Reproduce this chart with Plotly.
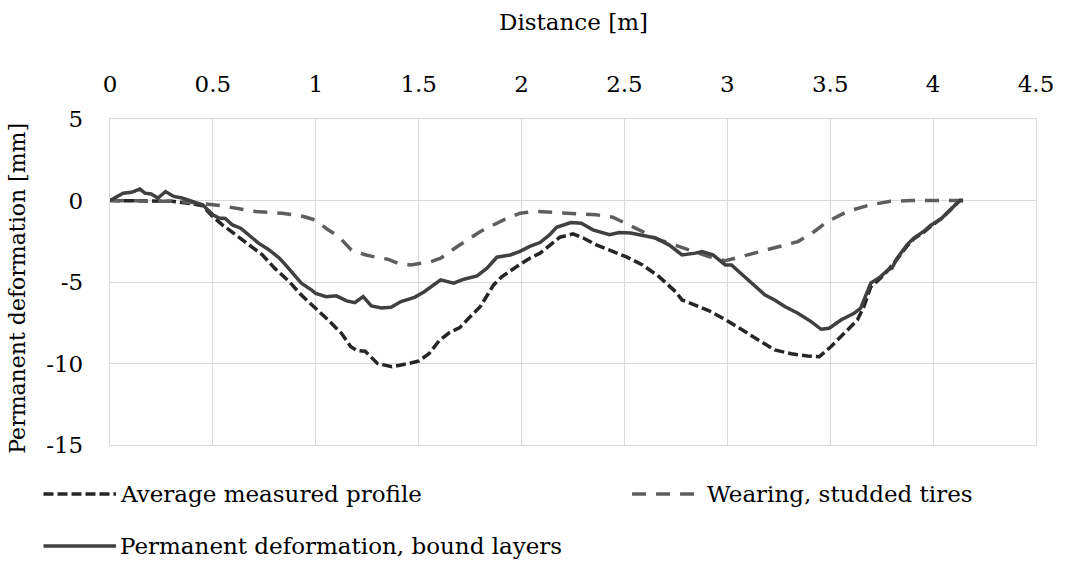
import plotly.graph_objects as go

# Average measured profile
avg_x = [0, 0.1, 0.2, 0.3, 0.4, 0.45, 0.5, 0.546, 0.61, 0.675, 0.74, 0.80, 0.87, 0.93, 1.0,
         1.06, 1.125, 1.17, 1.2, 1.24, 1.3, 1.37, 1.45, 1.5, 1.55, 1.6, 1.65, 1.7, 1.735, 1.8,
         1.864, 1.905, 1.977, 2.04, 2.09, 2.137, 2.186, 2.25, 2.30, 2.363, 2.427, 2.507, 2.588,
         2.668, 2.748, 2.78, 2.84, 2.909, 2.99, 3.07, 3.15, 3.23, 3.31, 3.39, 3.447, 3.503,
         3.568, 3.632, 3.664, 3.697, 3.745, 3.78, 3.825, 3.873, 3.906, 3.954, 3.986, 4.042,
         4.13, 4.146]
avg_y = [0, 0.0, 0.0, -0.05, -0.2, -0.33, -1.0, -1.49, -2.1, -2.7, -3.33, -4.15, -4.97, -5.8,
         -6.6, -7.33, -8.15, -8.97, -9.2, -9.25, -10.0, -10.2, -10.0, -9.85, -9.4, -8.6, -8.1,
         -7.8, -7.33, -6.5, -5.18, -4.67, -4.05, -3.54, -3.23, -2.78, -2.25, -2.05, -2.3,
         -2.72, -3.03, -3.44, -3.95, -4.67, -5.59, -6.1, -6.4, -6.75, -7.3, -7.94, -8.56,
         -9.17, -9.4, -9.54, -9.58, -8.97, -8.15, -7.33, -6.5, -5.3, -4.75, -4.3, -3.6, -2.8,
         -2.35, -1.95, -1.6, -1.1, 0, 0]

# Wearing, studded tires
wear_x = [0, 0.2, 0.3, 0.38, 0.546, 0.707, 0.836, 0.94, 0.997, 1.06, 1.11, 1.173, 1.24, 1.30,
          1.35, 1.4, 1.462, 1.56, 1.607, 1.688, 1.80, 1.913, 1.993, 2.07, 2.17, 2.26, 2.363,
          2.443, 2.49, 2.571, 2.668, 2.81, 2.909, 2.99, 3.053, 3.214, 3.343, 3.423, 3.487,
          3.584, 3.697, 3.793, 3.89, 4.146]
wear_y = [0, -0.02, -0.05, -0.1, -0.33, -0.67, -0.78, -0.98, -1.19, -1.8, -2.2, -3.03, -3.33,
          -3.5, -3.6, -3.85, -3.95, -3.75, -3.54, -2.82, -1.9, -1.19, -0.78, -0.67, -0.74,
          -0.78, -0.88, -1.02, -1.29, -1.8, -2.41, -3.03, -3.44, -3.7, -3.48, -2.93, -2.52,
          -1.9, -1.29, -0.67, -0.26, -0.05, 0, 0]

# Permanent deformation, bound layers
perm_x = [0, 0.064, 0.105, 0.145, 0.17, 0.2, 0.233, 0.27, 0.31, 0.35, 0.4, 0.45, 0.5, 0.53,
          0.56, 0.595, 0.635, 0.675, 0.72, 0.77, 0.82, 0.85, 0.89, 0.93, 0.98, 1.0, 1.05, 1.1,
          1.15, 1.19, 1.23, 1.27, 1.32, 1.366, 1.414, 1.48, 1.527, 1.607, 1.67, 1.72, 1.784,
          1.832, 1.88, 1.945, 1.99, 2.04, 2.09, 2.137, 2.17, 2.24, 2.29, 2.347, 2.427, 2.475,
          2.53, 2.588, 2.65, 2.716, 2.78, 2.845, 2.877, 2.93, 2.99, 3.02, 3.10, 3.182, 3.23,
          3.279, 3.343, 3.407, 3.456, 3.495, 3.552, 3.616, 3.648, 3.672, 3.697, 3.745, 3.78,
          3.80, 3.825, 3.873, 3.906, 3.954, 3.986, 4.042, 4.13, 4.146]
perm_y = [0, 0.45, 0.5, 0.7, 0.45, 0.4, 0.15, 0.55, 0.25, 0.15, -0.05, -0.26, -0.88, -1.08,
          -1.1, -1.5, -1.7, -2.1, -2.6, -3.0, -3.5, -3.9, -4.46, -5.07, -5.5, -5.7, -5.9,
          -5.85, -6.16, -6.27, -5.9, -6.47, -6.6, -6.55, -6.2, -5.94, -5.6, -4.87, -5.07,
          -4.83, -4.63, -4.15, -3.48, -3.34, -3.14, -2.82, -2.58, -2.1, -1.64, -1.35, -1.4,
          -1.8, -2.1, -1.96, -2.0, -2.17, -2.3, -2.72, -3.34, -3.23, -3.13, -3.33, -3.95,
          -3.95, -4.87, -5.79, -6.1, -6.5, -6.92, -7.43, -7.9, -7.84, -7.33, -6.92, -6.6,
          -5.9, -5.07, -4.67, -4.26, -4.15, -3.54, -2.72, -2.31, -1.9, -1.55, -1.08, 0, 0]

x_ticks = [0, 0.5, 1, 1.5, 2, 2.5, 3, 3.5, 4, 4.5]
x_ticktext = ["0", "0.5", "1", "1.5", "2", "2.5", "3", "3.5", "4", "4.5"]
y_ticks = [5, 0, -5, -10, -15]
y_ticktext = ["5", "0", "-5", "-10", "-15"]

series_names = ["Average measured profile", "Wearing, studded tires",
                "Permanent deformation, bound layers"]

FONT = "DejaVu Serif"
FS = 23
C_AVG = "#262626"
C_WEAR = "#5e5e5e"
C_PERM = "#404040"
DASH_AVG = "10px,4px"
DASH_WEAR = "14px,10px"
LW = 3.5
GRID = "#d9d9d9"

fig = go.Figure()
fig.add_trace(go.Scatter(x=avg_x, y=avg_y, mode="lines", name=series_names[0],
                         line=dict(color=C_AVG, width=LW, dash=DASH_AVG)))
fig.add_trace(go.Scatter(x=wear_x, y=wear_y, mode="lines", name=series_names[1],
                         line=dict(color=C_WEAR, width=LW, dash=DASH_WEAR)))
fig.add_trace(go.Scatter(x=perm_x, y=perm_y, mode="lines", name=series_names[2],
                         line=dict(color=C_PERM, width=LW)))

L, R, T, B = 110, 23, 119, 118
W, H = 1066, 563
pw, ph = W - L - R, H - T - B


def px_x(p):
    return (p - L) / pw


def px_y(p):
    return (H - B - p) / ph


# legend drawn as line samples plus labels
legend_items = [
    (series_names[0], C_AVG, DASH_AVG, 43, 116, 494),
    (series_names[1], C_WEAR, DASH_WEAR, 636, 707, 494),
    (series_names[2], C_PERM, "solid", 43, 116, 546),
]
shapes = []
annotations = []
for name, col, dash, x0, x1, yy in legend_items:
    shapes.append(dict(type="line", xref="paper", yref="paper",
                       x0=px_x(x0), x1=px_x(x1), y0=px_y(yy), y1=px_y(yy),
                       line=dict(color=col, width=LW, dash=dash)))
    annotations.append(dict(text=name, xref="paper", yref="paper", x=px_x(x1 + 2),
                            y=px_y(yy), xanchor="left", yanchor="middle", showarrow=False,
                            font=dict(family=FONT, size=FS, color="black")))

annotations.append(dict(text="Distance [m]", xref="paper", yref="paper",
                        x=0.5, y=px_y(22), xanchor="center", yanchor="middle",
                        showarrow=False, font=dict(family=FONT, size=FS, color="black")))
annotations.append(dict(text="Permanent deformation [mm]", xref="paper", yref="paper",
                        x=px_x(16), y=px_y(288), xanchor="center", yanchor="middle",
                        textangle=-90, showarrow=False,
                        font=dict(family=FONT, size=22, color="black")))

fig.update_layout(
    width=W, height=H,
    margin=dict(l=L, r=R, t=T, b=B, pad=0),
    paper_bgcolor="white", plot_bgcolor="white",
    showlegend=False,
    font=dict(family=FONT, size=FS, color="black"),
    shapes=shapes,
    annotations=annotations,
    xaxis=dict(range=[0, 4.5], side="top", tickvals=x_ticks, ticktext=x_ticktext,
               showgrid=True, gridcolor=GRID, gridwidth=1.3, zeroline=False,
               showline=True, linecolor=GRID, linewidth=1.3, mirror=True,
               ticks="", ticklabelstandoff=17,
               tickfont=dict(family=FONT, size=FS, color="black")),
    yaxis=dict(range=[-15, 5], tickvals=y_ticks, ticktext=y_ticktext,
               showgrid=True, gridcolor=GRID, gridwidth=1.3, zeroline=False,
               showline=True, linecolor=GRID, linewidth=1.3, mirror=True,
               ticks="", ticklabelstandoff=21,
               tickfont=dict(family=FONT, size=FS, color="black")),
)

fig.write_html("out.html")
